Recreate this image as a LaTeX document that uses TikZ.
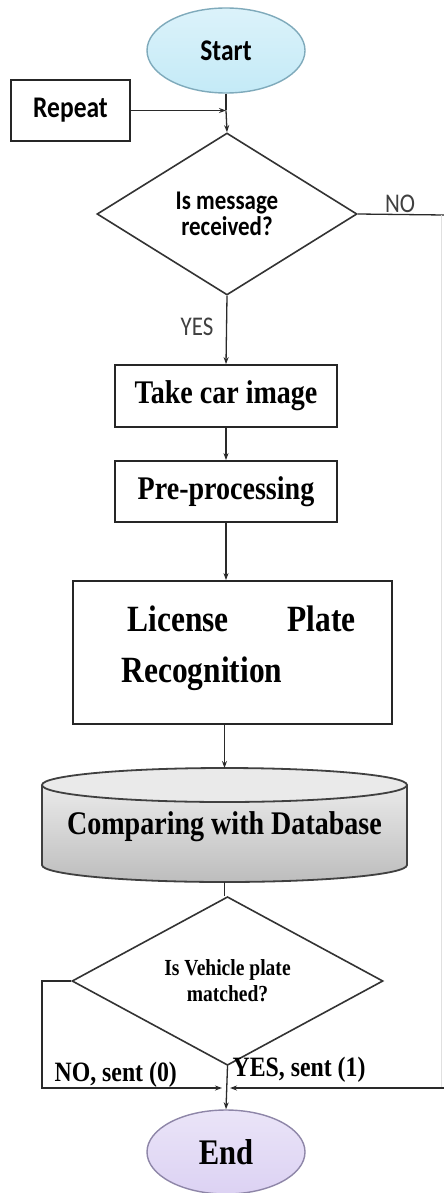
\documentclass[tikz,border=0pt]{standalone}
\usepackage{fontspec}
\usetikzlibrary{shapes.geometric,arrows.meta}
\newfontfamily\tnrfont[FakeStretch=0.85]{Liberation Serif}
\newfontfamily\calfont[FakeStretch=0.85]{Carlito}
\definecolor{startfill}{HTML}{C4EAF7}
\definecolor{startdraw}{HTML}{7FAABB}
\definecolor{endfill}{HTML}{DCD2F3}
\definecolor{enddraw}{HTML}{8E86A8}
\definecolor{dbtop}{HTML}{EAEAEA}
\definecolor{dbbot}{HTML}{BDBDBD}
\definecolor{linegray}{HTML}{2A2A2A}
\begin{document}
\begin{tikzpicture}[x=1pt,y=-1pt,
  line width=1.2pt,
  arr/.style={-{Stealth[length=7pt,width=5pt]}, line width=1.3pt, draw=linegray},
  ln/.style={line width=1.3pt, draw=linegray},
  procbox/.style={draw=black!85, line width=1.8pt, rectangle, inner sep=0pt},
  decision/.style={diamond, draw=black!80, line width=1.6pt, inner sep=0pt, align=center},
  tnrbold/.style={font=\tnrfont\bfseries\fontsize{33}{38}\selectfont},
  lbl/.style={inner sep=0pt}
]
\useasboundingbox (0,0) rectangle (444,1193);
\fill[white] (0,0) rectangle (444,1193);

% Start
\node[ellipse, draw=startdraw, line width=1.4pt, top color=startfill!60!white, bottom color=startfill,
      minimum width=158pt, minimum height=85pt, inner sep=0pt,
      font=\calfont\bfseries\fontsize{30}{34}\selectfont] (start) at (226,50.5) {Start};

% Repeat
\node[procbox, minimum width=119pt, minimum height=61pt,
      font=\calfont\bfseries\fontsize{30}{34}\selectfont] (repeat) at (70.5,110.5) {Repeat};

% Decision 1
\node[decision, minimum width=260pt, minimum height=162pt,
      font=\calfont\bfseries\fontsize{27}{26}\selectfont] (d1) at (227,214)
      {Is message\\received?};

\coordinate (join) at (226,110.5);

% Take car image
\node[procbox, minimum width=222pt, minimum height=62pt, tnrbold] (take) at (226,396) {Take car image};
% Pre-processing
\node[procbox, minimum width=222pt, minimum height=61pt, tnrbold] (pre) at (226,491.5) {Pre-processing};
% License plate recognition
\node[procbox, minimum width=319pt, minimum height=143pt] (lpr) at (232.5,652.5) {};
\node[inner sep=0pt, anchor=north west, text width=234pt, align=left,
      font=\tnrfont\bfseries\fontsize{37}{51}\selectfont] (lprtext) at (121,605)
      {\hspace*{6pt}License\hfill Plate\\Recognition};

% Database cylinder
\coordinate (dbt) at (224.5,768);
\coordinate (dbb) at (224.5,882);
\fill[top color=dbtop, bottom color=dbbot]
  (42,785) -- (42,865) arc[start angle=180, end angle=0, x radius=182.5, y radius=17] -- (407,785)
  arc[start angle=0, end angle=180, x radius=182.5, y radius=17] -- cycle;
\fill[dbtop] (224.5,785) ellipse[x radius=182.5, y radius=17];
\draw[draw=black!75, line width=1.8pt]
  (42,785) -- (42,865) arc[start angle=180, end angle=0, x radius=182.5, y radius=17] -- (407,785);
\draw[draw=black!75, line width=1.8pt] (224.5,785) ellipse[x radius=182.5, y radius=17];
\node[lbl, tnrbold] (db) at (224.5,827) {Comparing with Database};

% Decision 2
\node[decision, minimum width=311pt, minimum height=158pt,
      font=\tnrfont\bfseries\fontsize{23}{26}\selectfont] (d2) at (227.5,981)
      {Is Vehicle plate\\matched?};

% End
\node[ellipse, draw=enddraw, line width=1.4pt, top color=endfill!60!white, bottom color=endfill,
      minimum width=158pt, minimum height=84pt, inner sep=0pt,
      font=\tnrfont\bfseries\fontsize{36}{40}\selectfont] (end) at (226,1152) {End};

% Connectors
\draw[ln] (start.south) -- (join);
\draw[arr] (join) -- (d1.north);
\draw[arr] (repeat.east) -- (join);
\draw[arr] (d1.south) -- (take.north);
\draw[arr] (take.south) -- (pre.north);
\draw[arr] (pre.south) -- (pre.south |- lpr.north);
\draw[arr] (lpr.south -| dbt) -- (dbt);
\draw[ln] (dbb) -- (dbb |- d2.north);

\coordinate (mergeL) at (222,1088);
\coordinate (mergeR) at (230,1088);
\coordinate (nocornerA) at (42,981);
\coordinate (nocornerB) at (42,1088);
\draw[arr] (d2.west) -- (nocornerA) -- (nocornerB) -- (mergeL);

\coordinate (rightA) at (441,215);
\coordinate (rightB) at (441,1088);
\draw[ln] (d1.east) -- (444,215);
\draw[line width=0.8pt, draw=black!12] (rightA) -- (rightB);
\draw[arr] (444,1088) -- (mergeR);
\draw[arr] (d2.south) -- (end.north);

% Labels
\node[lbl, font=\calfont\fontsize{27}{30}\selectfont, text=black!75] (nolbl) at (400,204) {NO};
\node[lbl, font=\calfont\fontsize{27}{30}\selectfont, text=black!75] (yeslbl) at (197,327) {YES};
\node[lbl, font=\tnrfont\bfseries\fontsize{28}{30}\selectfont, anchor=base west] (nosent) at (54,1081) {NO, sent (0)};
\node[lbl, font=\tnrfont\bfseries\fontsize{28}{30}\selectfont, anchor=base west] (yessent) at (232,1076) {YES, sent (1)};
\end{tikzpicture}
\end{document}
